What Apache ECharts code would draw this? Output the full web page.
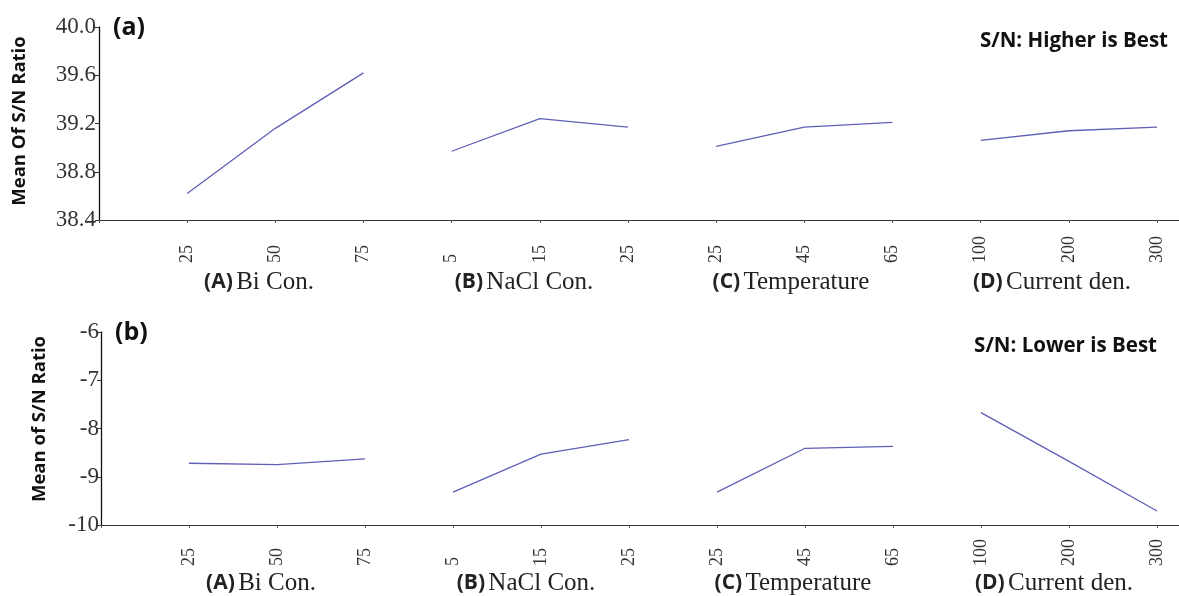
<!DOCTYPE html>
<html>
<head>
<meta charset="utf-8">
<script src="https://cdn.jsdelivr.net/npm/echarts@6/dist/echarts.min.js"></script>
<style>
  html, body { margin: 0; padding: 0; background: #fff; }
  #main { width: 1179px; height: 596px; }
</style>
</head>
<body>
<div id="main"></div>
<script>
// level labels along the shared x axis (positions 1..12)
var levelLabels = ['25', '50', '75', '5', '15', '25', '25', '45', '65', '100', '200', '300']
var factorNames = [
  ['(A)', 'Bi Con.'],
  ['(B)', 'NaCl Con.'],
  ['(C)', 'Temperature'],
  ['(D)', 'Current den.']
]

// (a) mean S/N ratio, higher is best
var snHigherA = [38.62, 39.16, 39.62]
var snHigherB = [38.97, 39.24, 39.17]
var snHigherC = [39.01, 39.17, 39.21]
var snHigherD = [39.06, 39.14, 39.17]

// (b) mean S/N ratio, lower is best
var snLowerA = [-8.72, -8.75, -8.63]
var snLowerB = [-9.32, -8.53, -8.23]
var snLowerC = [-9.32, -8.41, -8.37]
var snLowerD = [-7.67, -8.68, -9.71]

var lineColor = '#5f5fb8'
var serif = '"Liberation Serif", "DejaVu Serif", serif'
var sans = '"Open Sans", "Noto Sans", sans-serif'

function toPoints(values, group) {
  return values.map(function (v, i) {
    return [group * 3 + i + 1, v]
  })
}

function makeSeries(groups, axisIndex) {
  return groups.map(function (vals, g) {
    return {
      type: 'line',
      xAxisIndex: axisIndex,
      yAxisIndex: axisIndex,
      data: toPoints(vals, g),
      showSymbol: false,
      symbol: 'none',
      silent: true,
      lineStyle: { color: lineColor, width: 1.3 }
    }
  })
}

function xAxisFor(gridIndex, margin) {
  return {
    type: 'value',
    gridIndex: gridIndex,
    min: 0,
    max: 12.25,
    interval: 1,
    splitLine: { show: false },
    axisLine: { lineStyle: { color: '#333', width: 1.2 } },
    axisTick: { inside: false, length: 3, lineStyle: { color: '#555' } },
    axisLabel: {
      rotate: 90,
      align: 'left',
      verticalAlign: 'middle',
      margin: margin,
      fontFamily: serif,
      fontSize: 18,
      color: '#333',
      formatter: function (v) {
        if (v !== Math.round(v) || v < 1 || v > 12) return ''
        return levelLabels[v - 1]
      }
    }
  }
}

function yAxisFor(gridIndex, min, max, interval, decimals, margin) {
  return {
    type: 'value',
    gridIndex: gridIndex,
    min: min,
    max: max,
    interval: interval,
    splitLine: { show: false },
    axisLine: { show: true, lineStyle: { color: '#111', width: 1.3 } },
    axisTick: { show: true, length: 4, lineStyle: { color: '#333' } },
    axisLabel: {
      fontFamily: serif,
      fontSize: 23,
      color: '#333',
      margin: margin,
      formatter: function (v) {
        return v.toFixed(decimals)
      }
    }
  }
}

function factorLabel(x, y, pair) {
  return {
    type: 'text',
    x: x,
    y: y,
    style: {
      text: '{b|' + pair[0] + '} {s|' + pair[1] + '}',
      align: 'center',
      verticalAlign: 'middle',
      rich: {
        b: { fontFamily: sans, fontWeight: 'bold', fontSize: 21, fill: '#222' },
        s: { fontFamily: serif, fontSize: 25, fill: '#222' }
      }
    }
  }
}

var groupCentersA = [259, 524, 791, 1052]
var groupCentersB = [261, 526, 793, 1054]

var graphics = []
groupCentersA.forEach(function (cx, i) { graphics.push(factorLabel(cx, 282, factorNames[i])) })
groupCentersB.forEach(function (cx, i) { graphics.push(factorLabel(cx, 583, factorNames[i])) })
graphics.push(
  { type: 'text', x: 113, y: 28, style: { text: '(a)', fontFamily: sans, fontWeight: 'bold', fontSize: 25, fill: '#111', verticalAlign: 'middle' } },
  { type: 'text', x: 115, y: 333, style: { text: '(b)', fontFamily: sans, fontWeight: 'bold', fontSize: 25, fill: '#111', verticalAlign: 'middle' } },
  { type: 'text', x: 1168, y: 41, style: { text: 'S/N: Higher is Best', fontFamily: sans, fontWeight: 'bold', fontSize: 20.5, fill: '#111', align: 'right', verticalAlign: 'middle' } },
  { type: 'text', x: 1157, y: 346, style: { text: 'S/N: Lower is Best', fontFamily: sans, fontWeight: 'bold', fontSize: 20.5, fill: '#111', align: 'right', verticalAlign: 'middle' } },
  { type: 'text', x: 20, y: 121, rotation: Math.PI / 2, style: { text: 'Mean Of S/N Ratio', fontFamily: sans, fontWeight: 'bold', fontSize: 18.5, fill: '#111', align: 'center', verticalAlign: 'middle' } },
  { type: 'text', x: 40, y: 419, rotation: Math.PI / 2, style: { text: 'Mean of S/N Ratio', fontFamily: sans, fontWeight: 'bold', fontSize: 18.5, fill: '#111', align: 'center', verticalAlign: 'middle' } }
)

var chart = echarts.init(document.getElementById('main'))
chart.setOption({
  animation: false,
  backgroundColor: '#fff',
  grid: [
    { left: 99, top: 27, height: 193, right: 0 },
    { left: 101, top: 332, height: 193, right: 0 }
  ],
  xAxis: [xAxisFor(0, 43), xAxisFor(1, 41)],
  yAxis: [
    yAxisFor(0, 38.4, 40.0, 0.4, 1, 3),
    yAxisFor(1, -10, -6, 1, 0, 2)
  ],
  series: makeSeries([snHigherA, snHigherB, snHigherC, snHigherD], 0)
    .concat(makeSeries([snLowerA, snLowerB, snLowerC, snLowerD], 1)),
  graphic: graphics
})
</script>
</body>
</html>
